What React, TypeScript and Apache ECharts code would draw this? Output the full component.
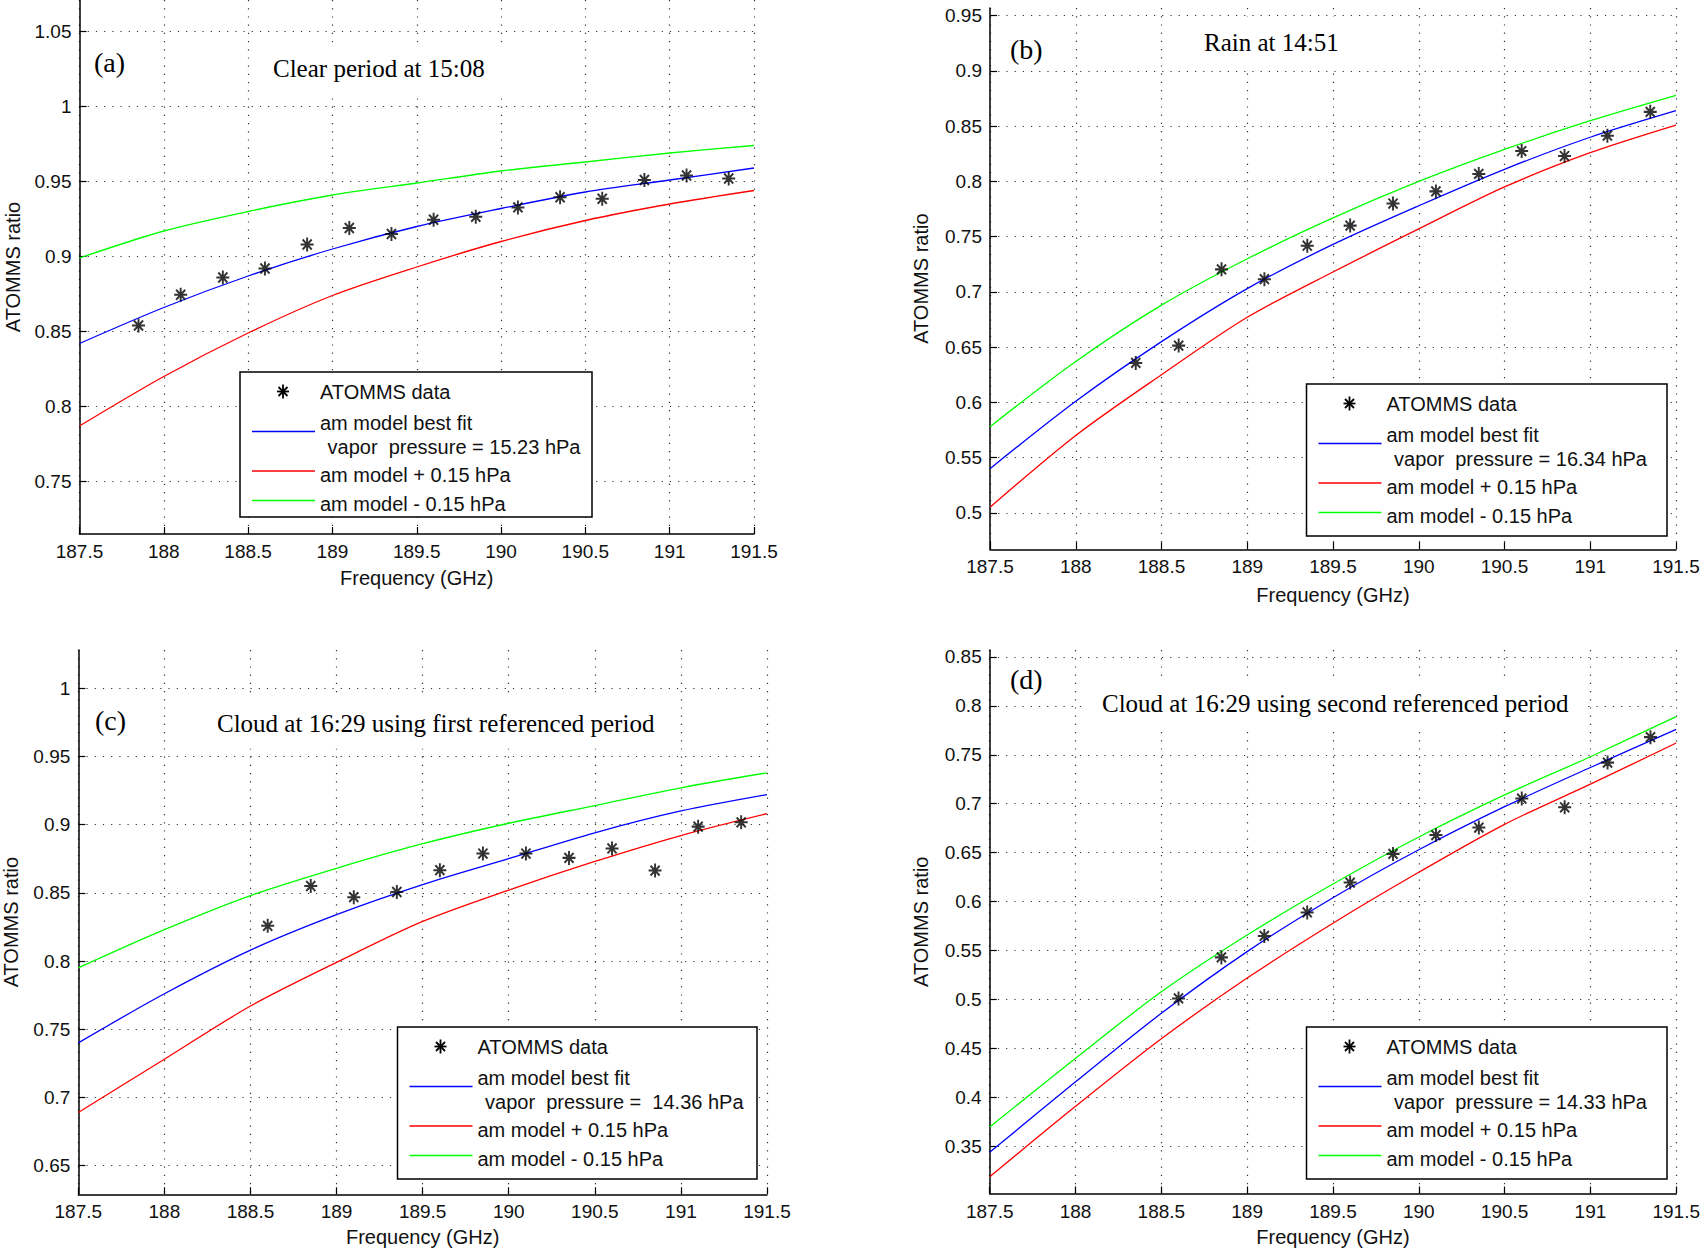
import React, { useEffect, useRef } from "react";
import * as echarts from "echarts";

// frequencies (GHz) where the model curves were read
const curveFreqs = [187.5, 188, 188.5, 189, 189.5, 190, 190.5, 191, 191.5];

// ATOMMS measurement frequencies per panel
const freqsA = [187.85, 188.1, 188.35, 188.6, 188.85, 189.1, 189.35, 189.6, 189.85, 190.1, 190.35, 190.6, 190.85, 191.1, 191.35];
const freqsB = [188.35, 188.6, 188.85, 189.1, 189.35, 189.6, 189.85, 190.1, 190.35, 190.6, 190.85, 191.1, 191.35];
const freqsC = [188.6, 188.85, 189.1, 189.35, 189.6, 189.85, 190.1, 190.35, 190.6, 190.85, 191.1, 191.35];
const freqsD = [188.6, 188.85, 189.1, 189.35, 189.6, 189.85, 190.1, 190.35, 190.6, 190.85, 191.1, 191.35];

// (a) clear period at 15:08
const atommsA = [0.854, 0.8745, 0.886, 0.892, 0.908, 0.919, 0.915, 0.9245, 0.9265, 0.9327, 0.9395, 0.9385, 0.951, 0.954, 0.952];
const bestA = [0.842, 0.866, 0.887, 0.905, 0.92, 0.932, 0.943, 0.951, 0.959];
const plusA = [0.787, 0.82, 0.849, 0.874, 0.893, 0.91, 0.924, 0.935, 0.944];
const minusA = [0.899, 0.917, 0.93, 0.941, 0.949, 0.957, 0.963, 0.969, 0.974];

// (b) rain at 14:51
const atommsB = [0.6357, 0.6514, 0.7204, 0.7115, 0.7418, 0.76, 0.78, 0.791, 0.8068, 0.8275, 0.823, 0.8414, 0.863];
const bestB = [0.54, 0.601, 0.655, 0.703, 0.743, 0.778, 0.811, 0.84, 0.864];
const plusB = [0.505, 0.57, 0.625, 0.677, 0.718, 0.757, 0.795, 0.826, 0.851];
const minusB = [0.578, 0.637, 0.688, 0.73, 0.767, 0.8, 0.829, 0.855, 0.878];

// (c) cloud at 16:29, first referenced period
const atommsC = [0.8258, 0.855, 0.8468, 0.8506, 0.8666, 0.8788, 0.8788, 0.8756, 0.8825, 0.8663, 0.8985, 0.9017];
const bestC = [0.74, 0.776, 0.808, 0.834, 0.856, 0.875, 0.894, 0.91, 0.922];
const plusC = [0.689, 0.728, 0.767, 0.799, 0.829, 0.852, 0.873, 0.892, 0.908];
const minusC = [0.795, 0.823, 0.848, 0.868, 0.886, 0.901, 0.914, 0.927, 0.938];

// (d) cloud at 16:29, second referenced period
const atommsD = [0.5012, 0.5431, 0.565, 0.589, 0.6195, 0.6488, 0.668, 0.6757, 0.7053, 0.6964, 0.742, 0.768];
const bestD = [0.344, 0.416, 0.486, 0.549, 0.604, 0.653, 0.697, 0.737, 0.776];
const plusD = [0.319, 0.391, 0.46, 0.522, 0.578, 0.63, 0.679, 0.72, 0.762];
const minusD = [0.37, 0.44, 0.508, 0.566, 0.618, 0.666, 0.709, 0.748, 0.789];

// y tick labels per panel
const yTicksA = [0.75, 0.8, 0.85, 0.9, 0.95, 1, 1.05];
const yTicksB = [0.5, 0.55, 0.6, 0.65, 0.7, 0.75, 0.8, 0.85, 0.9, 0.95];
const yTicksC = [0.65, 0.7, 0.75, 0.8, 0.85, 0.9, 0.95, 1];
const yTicksD = [0.35, 0.4, 0.45, 0.5, 0.55, 0.6, 0.65, 0.7, 0.75, 0.8, 0.85];

const yRanges = [
  [0.715, 1.071],
  [0.467, 0.957],
  [0.629, 1.028],
  [0.302, 0.857],
];

const letters = ["(a)", "(b)", "(c)", "(d)"];
const titles = [
  "Clear period at 15:08",
  "Rain at 14:51",
  "Cloud at 16:29 using first referenced period",
  "Cloud at 16:29 using second referenced period",
];
const vaporLabels = [
  " vapor  pressure = 15.23 hPa",
  " vapor  pressure = 16.34 hPa",
  " vapor  pressure =  14.36 hPa",
  " vapor  pressure = 14.33 hPa",
];

const SANS = '"Liberation Sans", Arial, Helvetica, sans-serif';
const SERIF = '"Liberation Serif", "Times New Roman", serif';
const STAR = "path://M10,0L10,20M0,10L20,10M3,3L17,17M3,17L17,3";

const BLUE = "#0000ff";
const RED = "#ff0000";
const GREEN = "#00ff00";

// pixel layout of the four panels
const layout = [
  { left: 79.5, top: 0, width: 674.5, height: 534, xGap: 34, yGap: 57, letter: [94, 62], title: [273, 68], legend: [240, 372, 352, 145] },
  { left: 990, top: 8, width: 686, height: 541.3, xGap: 36, yGap: 59, letter: [1010, 49], title: [1204, 42], legend: [1306.5, 384, 360.5, 152] },
  { left: 78.3, top: 650, width: 688.7, height: 544.3, xGap: 33, yGap: 57, letter: [95, 720], title: [217, 723], legend: [397.5, 1027, 359.5, 152] },
  { left: 989.7, top: 650, width: 687.3, height: 543.5, xGap: 33.5, yGap: 59, letter: [1010, 679], title: [1102, 703], legend: [1306.5, 1027, 360.5, 152] },
];

const dotted = { color: "#333", width: 1.2, type: [1.2, 7] as number[] };
const fmt = (v: number) => String(Math.round(v * 100) / 100);

const legendItems = (x: number, y: number, w: number, h: number, vapor: string) => {
  const line = (dy: number, color: string) => ({
    type: "line",
    z: 101,
    shape: { x1: x + 12, y1: y + dy, x2: x + 75, y2: y + dy },
    style: { stroke: color, lineWidth: 1.3 },
  });
  const label = (dx: number, dy: number, text: string) => ({
    type: "text",
    z: 101,
    x: x + dx,
    y: y + dy,
    style: { text, fontFamily: SANS, fontSize: 20, fill: "#111", align: "left", verticalAlign: "middle" },
  });
  const cx = x + 43;
  const cy = y + 19.5;
  const seg = (x1: number, y1: number, x2: number, y2: number) => ({
    type: "line",
    z: 101,
    shape: { x1: cx + x1, y1: cy + y1, x2: cx + x2, y2: cy + y2 },
    style: { stroke: "#000", lineWidth: 1.8 },
  });
  return [
    { type: "rect", z: 100, shape: { x, y, width: w, height: h }, style: { fill: "#fff", stroke: "#000", lineWidth: 1.5 } },
    seg(0, -7, 0, 7),
    seg(-6, 0, 6, 0),
    seg(-4.5, -4.5, 4.5, 4.5),
    seg(-4.5, 4.5, 4.5, -4.5),
    label(80, 19.5, "ATOMMS data"),
    label(80, 50.5, "am model best fit"),
    line(59.5, BLUE),
    label(82, 75, vapor),
    line(99, RED),
    label(80, 102.5, "am model + 0.15 hPa"),
    line(128.5, GREEN),
    label(80, 132, "am model - 0.15 hPa"),
  ];
};

const App: React.FC = () => {
  const chartRef = useRef<HTMLDivElement>(null);

  useEffect(() => {
    if (!chartRef.current) return;
    const chart = echarts.init(chartRef.current, undefined, { renderer: "svg" });

    const panels = [
      { freqs: freqsA, atomms: atommsA, best: bestA, plus: plusA, minus: minusA, ticks: yTicksA },
      { freqs: freqsB, atomms: atommsB, best: bestB, plus: plusB, minus: minusB, ticks: yTicksB },
      { freqs: freqsC, atomms: atommsC, best: bestC, plus: plusC, minus: minusC, ticks: yTicksC },
      { freqs: freqsD, atomms: atommsD, best: bestD, plus: plusD, minus: minusD, ticks: yTicksD },
    ];

    const curve = (i: number, values: number[], color: string, name: string) => ({
      name,
      type: "line",
      xAxisIndex: i,
      yAxisIndex: i,
      data: curveFreqs.map((f, k) => [f, values[k]]),
      smooth: 0.3,
      showSymbol: false,
      lineStyle: { color, width: 1.3 },
      z: 3,
    });

    const series: any[] = [];
    panels.forEach((p, i) => {
      series.push(curve(i, p.best, BLUE, "am model best fit"));
      series.push(curve(i, p.plus, RED, "am model + 0.15 hPa"));
      series.push(curve(i, p.minus, GREEN, "am model - 0.15 hPa"));
      series.push({
        name: "ATOMMS data",
        type: "scatter",
        xAxisIndex: i,
        yAxisIndex: i,
        data: p.freqs.map((f, k) => [f, p.atomms[k]]),
        symbol: STAR,
        symbolSize: [13, 14],
        itemStyle: { color: "#000", borderColor: "#000", borderWidth: 2 },
        z: 4,
      });
    });

    const graphics: any[] = [];
    layout.forEach((l, i) => {
      graphics.push({
        type: "text",
        z: 90,
        x: l.letter[0],
        y: l.letter[1],
        style: { text: letters[i], fontFamily: SERIF, fontSize: 28, fill: "#000", align: "left", verticalAlign: "middle" },
      });
      graphics.push({
        type: "text",
        z: 90,
        x: l.title[0] - 18,
        y: l.title[1],
        style: {
          text: titles[i],
          fontFamily: SERIF,
          fontSize: 25,
          fill: "#000",
          align: "left",
          verticalAlign: "middle",
          backgroundColor: "#fff",
          padding: [13, 18],
        },
      });
      graphics.push(...legendItems(l.legend[0], l.legend[1], l.legend[2], l.legend[3], vaporLabels[i]));
    });

    const option: any = {
      animation: false,
      backgroundColor: "#fff",
      grid: layout.map((l) => ({ left: l.left, top: l.top, width: l.width, height: l.height })),
      xAxis: layout.map((l, i) => ({
        type: "value",
        gridIndex: i,
        min: 187.5,
        max: 191.5,
        interval: 0.5,
        name: "Frequency (GHz)",
        nameLocation: "middle",
        nameGap: l.xGap,
        nameTextStyle: { fontFamily: SANS, fontSize: 20, color: "#111" },
        axisLine: { show: true, onZero: false, lineStyle: { color: "#000", width: 1.5 } },
        axisTick: { show: true, inside: true, length: 7, lineStyle: { color: "#000", width: 1.2 } },
        axisLabel: { margin: 8, fontFamily: SANS, fontSize: 19, color: "#111", formatter: (v: number) => String(v) },
        splitLine: { show: true, lineStyle: dotted },
      })),
      yAxis: layout.map((l, i) => ({
        type: "value",
        gridIndex: i,
        min: yRanges[i][0],
        max: yRanges[i][1],
        name: "ATOMMS ratio",
        nameLocation: "middle",
        nameGap: l.yGap,
        nameRotate: 90,
        nameTextStyle: { fontFamily: SANS, fontSize: 20, color: "#111" },
        axisLine: { show: true, onZero: false, lineStyle: { color: "#000", width: 1.5 } },
        axisTick: { show: true, inside: true, length: 7, customValues: panels[i].ticks, lineStyle: { color: "#000", width: 1.2 } },
        axisLabel: { margin: 8, fontFamily: SANS, fontSize: 19, color: "#111", customValues: panels[i].ticks, formatter: fmt },
        splitLine: { show: true, customValues: panels[i].ticks, lineStyle: dotted },
      })),
      series,
      graphic: { elements: graphics },
    };

    chart.setOption(option);
    return () => chart.dispose();
  }, []);

  return (
    <div
      ref={chartRef}
      style={{ position: "fixed", left: 0, top: 0, width: 1703, height: 1251, background: "#fff" }}
    />
  );
};

export default App;
